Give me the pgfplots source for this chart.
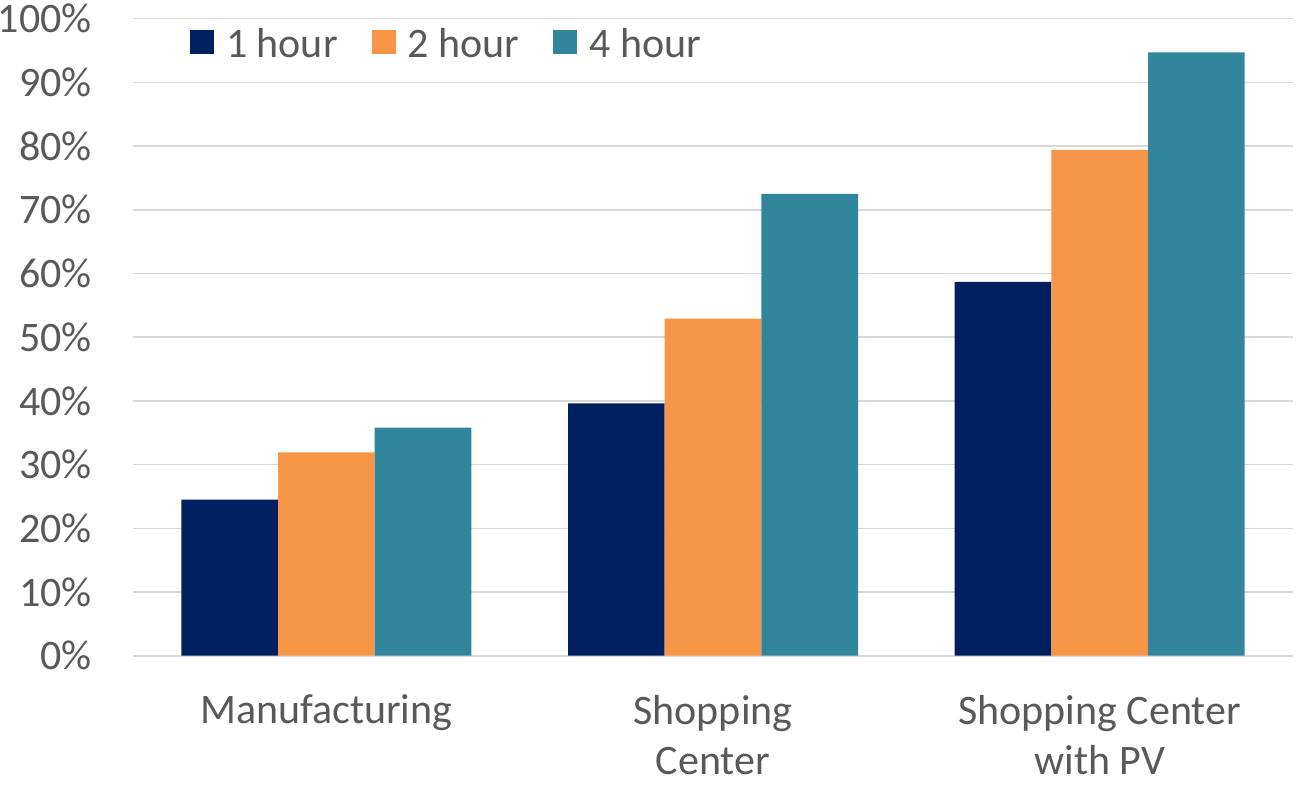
\documentclass[border=0pt]{standalone}
\usepackage{fontspec}
\setmainfont{Carlito}
\usepackage{pgfplots}
\pgfplotsset{compat=1.18}
\definecolor{navy}{HTML}{002060}
\definecolor{orng}{HTML}{F79646}
\definecolor{teal2}{HTML}{31859C}
\definecolor{txt}{HTML}{595959}
\definecolor{grd}{HTML}{D9D9D9}
\begin{document}
\begin{tikzpicture}
\begin{axis}[
  scale only axis,
  width=580bp, height=318.5bp,
  xmin=-0.5, xmax=2.5,
  ymin=0, ymax=100,
  ytick={0,10,...,100},
  xtick={0,1,2},
  xticklabels={Manufacturing,Shopping\\Center,Shopping Center\\with PV},
  axis line style={draw=none},
  major tick length=0pt,
  ymajorgrids,
  grid style={grd, line width=0.8bp},
  /pgf/number format/assume math mode=true,
  yticklabel={\pgfmathprintnumber{\tick}\%},
  tick label style={font=\fontsize{21bp}{25bp}\selectfont, text=txt},
  yticklabel style={anchor=east, inner sep=0pt, xshift=-20.5bp},
  xticklabel style={anchor=north, inner sep=0pt, yshift=-19.5bp, align=center},
  ybar, bar width=0.25, bar shift=0pt,
  legend columns=3,
  legend style={draw=none, fill=none, inner sep=0pt, outer sep=0pt,
    at={(rel axis cs:0,1)}, anchor=north west, xshift=28.5bp, yshift=-4.65bp,
    font=\fontsize{21bp}{25bp}\selectfont, text=txt,
    nodes={inner sep=0pt},
    /tikz/every odd column/.style={column sep=6bp},
    /tikz/every even column/.style={column sep=17bp}},
  legend cell align=left,
  legend image code/.code={\fill[#1,draw=none] (0bp,-5bp) rectangle (12bp,7bp);},
]
\addplot[fill=navy, draw=none] coordinates {(-0.25,24.5) (0.75,39.6) (1.75,58.7)};
\addplot[fill=orng, draw=none] coordinates {(0,31.9) (1,52.9) (2,79.4)};
\addplot[fill=teal2, draw=none] coordinates {(0.25,35.8) (1.25,72.5) (2.25,94.7)};
\legend{1 hour,2 hour,4 hour}
\end{axis}
\pgfresetboundingbox
\path[use as bounding box] ([xshift=-66.5bp,yshift=-65.15bp]current axis.south west) rectangle ([xshift=1.5bp,yshift=9.35bp]current axis.north east);
\end{tikzpicture}
\end{document}
